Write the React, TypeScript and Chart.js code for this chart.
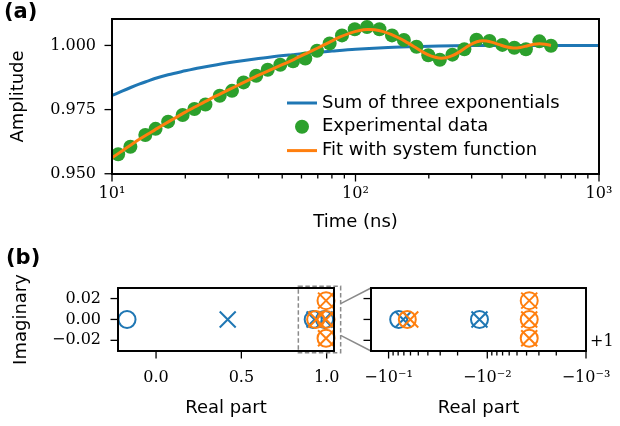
import { useEffect, useRef } from "react";
import { Chart, registerables } from "chart.js";

Chart.register(...registerables);

// ---------------- Panel (a) data ----------------
const expTime = [10.6, 11.9, 13.7, 15.1, 17.0, 19.5, 21.8, 24.2, 27.7, 31.1, 34.7, 39.1, 43.6, 49.1, 55.4, 62.2, 69.5, 78.3, 88.0, 99.3, 111.5, 125.4, 141.2, 158, 178, 199, 222, 250, 280, 314, 355, 401, 449, 501, 569, 635];
const expAmp = [0.9576, 0.9605, 0.9651, 0.9675, 0.9703, 0.9729, 0.9752, 0.977, 0.9804, 0.9823, 0.9856, 0.9882, 0.9905, 0.9925, 0.9938, 0.9949, 0.9979, 1.0008, 1.0039, 1.0063, 1.0072, 1.0063, 1.0039, 1.0021, 0.9995, 0.9962, 0.9944, 0.9964, 0.9985, 1.0022, 1.0017, 1.0002, 0.9991, 0.9985, 1.0016, 0.9999];

const fitTime = [10, 11, 12, 13, 14, 15, 16, 18, 20, 22, 25, 28, 32, 36, 40, 45, 50, 56, 63, 70, 78, 86, 95, 104, 112, 120, 130, 140, 150, 160, 175, 190, 205, 220, 235, 250, 265, 285, 305, 325, 345, 365, 390, 415, 445, 475, 505, 540, 570, 600, 635];
const fitAmp = [0.9562, 0.9589, 0.9613, 0.9635, 0.9654, 0.9671, 0.9687, 0.9715, 0.974, 0.9761, 0.9789, 0.9812, 0.9839, 0.9863, 0.9884, 0.9906, 0.9925, 0.9946, 0.9969, 0.999, 1.0012, 1.0032, 1.0048, 1.0058, 1.0062, 1.0061, 1.0054, 1.0043, 1.003, 1.0016, 0.9994, 0.9973, 0.9958, 0.9951, 0.9952, 0.996, 0.9973, 0.9993, 1.0009, 1.0017, 1.0017, 1.0012, 1.0003, 0.9995, 0.999, 0.9992, 0.9998, 1.0005, 1.0007, 1.0005, 1.0];

const sumTime = [10, 11, 12, 13, 14, 15, 17, 20, 23, 27, 32, 38, 45, 55, 65, 80, 100, 130, 170, 220, 300, 400, 1000];
const sumAmp = [0.9805, 0.9822, 0.9837, 0.985, 0.9861, 0.9871, 0.9886, 0.9901, 0.9913, 0.9925, 0.9936, 0.9946, 0.9955, 0.9964, 0.9971, 0.9978, 0.9985, 0.9991, 0.9995, 0.9998, 0.99995, 1.0, 1.0];

const timeMajorTicks = [10, 100, 1000];
const timeMajorLabels = ["10¹", "10²", "10³"];
const timeMinorTicks = [20, 30, 40, 50, 60, 70, 80, 90, 200, 300, 400, 500, 600, 700, 800, 900];
const ampTicks = [0.95, 0.975, 1.0];
const ampTickLabels = ["0.950", "0.975", "1.000"];

// ---------------- Panel (b) data ----------------
const sumZeroRe = [-0.17, 0.921, 0.988];
const sumZeroIm = [0, 0, 0];
const sumPoleRe = [0.42, 0.929, 0.988];
const sumPoleIm = [0, 0, 0];
const fitZeroRe = [0.9354, 0.99624, 0.99624, 0.99624];
const fitZeroIm = [0, 0.018, 0, -0.018];
const fitPoleRe = [0.9397, 0.99624, 0.99624, 0.99624];
const fitPoleIm = [0, 0.018, 0, -0.018];

const reTicks = [0, 0.5, 1.0];
const reTickLabels = ["0.0", "0.5", "1.0"];
const imTicks = [-0.02, 0, 0.02];
const imTickLabels = ["−0.02", "0.00", "0.02"];
// inset axis: distance below 1 (1 − Re), drawn as −10^k with "+1" offset
const offMajorTicks = [0.1, 0.01, 0.001];
const offMajorLabels = ["−10⁻¹", "−10⁻²", "−10⁻³"];
const offMinorTicks = [0.09, 0.08, 0.07, 0.06, 0.05, 0.04, 0.03, 0.02, 0.009, 0.008, 0.007, 0.006, 0.005, 0.004, 0.003, 0.002];

// ---------------- styles ----------------
const BLUE = "#1f77b4";
const ORANGE = "#ff7f0e";
const GREEN = "#2ca02c";
const GREY = "#8a8a8a";
const TICK_FONT = { family: "'DejaVu Serif', serif", size: 16 };
const LABEL_FONT = { family: "'DejaVu Sans', sans-serif", size: 18 };
const PANEL_FONT = "bold 21px 'DejaVu Sans', sans-serif";

const near = (a: number, b: number) => Math.abs(a - b) <= 1e-9 * Math.max(Math.abs(a), Math.abs(b), 1e-9);
const labeler = (vals: number[], labels: string[]) => (v: any) => {
  const n = Number(v);
  const i = vals.findIndex((m) => near(m, n));
  return i >= 0 ? labels[i] : "";
};
const pts = (xs: number[], ys: number[]) => xs.map((x, i) => ({ x, y: ys[i] }));
const sorted = (a: number[]) => [...a].sort((p, q) => p - q);

function drawAxisTicks(chart: any, id: string, majors: number[]) {
  const ctx = chart.ctx;
  const a = chart.chartArea;
  const s = chart.scales[id];
  ctx.save();
  ctx.strokeStyle = "#000";
  ctx.lineWidth = 1.3;
  for (const t of s.ticks) {
    const len = majors.some((m) => near(m, t.value)) ? 7.5 : 4.5;
    const p = s.getPixelForValue(t.value);
    ctx.beginPath();
    if (s.isHorizontal()) {
      ctx.moveTo(p, a.bottom);
      ctx.lineTo(p, a.bottom + len);
    } else {
      ctx.moveTo(a.left, p);
      ctx.lineTo(a.left - len, p);
    }
    ctx.stroke();
  }
  ctx.lineWidth = 1.8;
  ctx.strokeRect(a.left, a.top, a.right - a.left, a.bottom - a.top);
  ctx.restore();
}

function scaleBase(
  allTicks: number[],
  labelVals: number[],
  labels: string[],
  pad: number,
  size: number,
  showLabels = true
) {
  return {
    bounds: "data",
    afterBuildTicks: (s: any) => {
      s.ticks = allTicks.map((value) => ({ value }));
    },
    afterFit: (s: any) => {
      if (s.isHorizontal()) s.height = size;
      else s.width = size;
      s.paddingTop = 0;
      s.paddingBottom = 0;
      s.paddingLeft = 0;
      s.paddingRight = 0;
    },
    grid: { display: false, drawTicks: false },
    border: { display: false },
    ticks: {
      display: showLabels,
      autoSkip: false,
      maxRotation: 0,
      minRotation: 0,
      padding: pad,
      color: "#000",
      font: TICK_FONT,
      callback: labeler(labelVals, labels),
    },
  };
}

const markerDs = (label: string, re: number[], im: number[], color: string, style: string, order: number, inset: boolean) => ({
  label,
  data: re.map((r, i) => ({ x: inset ? 1 - r : r, y: im[i] })),
  pointStyle: style,
  pointRadius: style === "circle" ? 8.5 : 11.3,
  pointBorderWidth: 2,
  borderColor: color,
  backgroundColor: "rgba(0,0,0,0)",
  pointBackgroundColor: "rgba(0,0,0,0)",
  pointBorderColor: color,
  showLine: false,
  clip: false,
  order,
});

const C_LEFT = 335;

export default function App() {
  const refA = useRef<HTMLCanvasElement>(null);
  const refB = useRef<HTMLCanvasElement>(null);
  const refC = useRef<HTMLCanvasElement>(null);

  useEffect(() => {
    // ---------- inset (right of panel b) ----------
    const chartC = new Chart(refC.current as HTMLCanvasElement, {
      type: "scatter",
      data: {
        datasets: [
          markerDs("fit zeros", fitZeroRe, fitZeroIm, ORANGE, "circle", 0, true),
          markerDs("fit poles", fitPoleRe, fitPoleIm, ORANGE, "crossRot", 0, true),
          markerDs("sum zeros", sumZeroRe, sumZeroIm, BLUE, "circle", 1, true),
          markerDs("sum poles", sumPoleRe, sumPoleIm, BLUE, "crossRot", 1, true),
        ] as any,
      },
      options: {
        animation: false,
        responsive: false,
        maintainAspectRatio: false,
        layout: { padding: { left: 0, right: 34, top: 48, bottom: 0 } },
        plugins: { legend: { display: false }, tooltip: { enabled: false } },
        scales: {
          x: {
            type: "logarithmic",
            reverse: true,
            min: 0.001,
            max: 0.1507,
            ...scaleBase(sorted([...offMajorTicks, ...offMinorTicks]), offMajorTicks, offMajorLabels, 17, 75),
            title: { display: true, text: "Real part", color: "#000", font: LABEL_FONT, padding: { top: 0, bottom: 7 } },
          },
          y: {
            type: "linear",
            min: -0.0302,
            max: 0.0301,
            ...scaleBase(imTicks, imTicks, imTickLabels, 17, 36, false),
          },
        } as any,
      },
      plugins: [
        {
          id: "decoC",
          afterDatasetsDraw(chart: any) {
            drawAxisTicks(chart, "x", offMajorTicks);
            drawAxisTicks(chart, "y", imTicks);
            const ctx = chart.ctx;
            const a = chart.chartArea;
            ctx.save();
            ctx.fillStyle = "#000";
            ctx.font = "16px 'DejaVu Serif', serif";
            ctx.textAlign = "left";
            ctx.textBaseline = "middle";
            ctx.fillText("+1", a.right + 4, a.bottom - 9);
            ctx.restore();
          },
        },
      ],
    });

    // ---------- panel b (left) ----------
    const chartB = new Chart(refB.current as HTMLCanvasElement, {
      type: "scatter",
      data: {
        datasets: [
          markerDs("fit zeros", fitZeroRe, fitZeroIm, ORANGE, "circle", 0, false),
          markerDs("fit poles", fitPoleRe, fitPoleIm, ORANGE, "crossRot", 0, false),
          markerDs("sum zeros", sumZeroRe, sumZeroIm, BLUE, "circle", 1, false),
          markerDs("sum poles", sumPoleRe, sumPoleIm, BLUE, "crossRot", 1, false),
        ] as any,
      },
      options: {
        animation: false,
        responsive: false,
        maintainAspectRatio: false,
        layout: { padding: { left: 0, right: 46, top: 48, bottom: 0 } },
        plugins: { legend: { display: false }, tooltip: { enabled: false } },
        scales: {
          x: {
            type: "linear",
            min: -0.223,
            max: 1.043,
            ...scaleBase(reTicks, reTicks, reTickLabels, 17, 75),
            title: { display: true, text: "Real part", color: "#000", font: LABEL_FONT, padding: { top: 0, bottom: 7 } },
          },
          y: {
            type: "linear",
            min: -0.0302,
            max: 0.0301,
            ...scaleBase(imTicks, imTicks, imTickLabels, 17, 118),
            title: { display: true, text: "Imaginary", color: "#000", font: LABEL_FONT, padding: { top: 11, bottom: 0 } },
          },
        } as any,
      },
      plugins: [
        {
          id: "decoB",
          afterDatasetsDraw(chart: any) {
            drawAxisTicks(chart, "x", reTicks);
            drawAxisTicks(chart, "y", imTicks);
            const ctx = chart.ctx;
            const xs = chart.scales.x;
            const ys = chart.scales.y;
            const x0 = xs.getPixelForValue(0.834);
            const x1 = xs.getPixelForValue(1.082);
            const y0 = ys.getPixelForValue(0.0317);
            const y1 = ys.getPixelForValue(-0.0318);
            ctx.save();
            ctx.strokeStyle = GREY;
            ctx.lineWidth = 1.5;
            ctx.setLineDash([4.5, 2.5]);
            ctx.strokeRect(x0, y0, x1 - x0, y1 - y0);
            ctx.setLineDash([]);
            const ca = chartC.chartArea;
            const ix = ca.left + C_LEFT;
            ctx.beginPath();
            ctx.moveTo(x1, ys.getPixelForValue(0.0152));
            ctx.lineTo(ix, ca.top);
            ctx.moveTo(x1, ys.getPixelForValue(-0.0152));
            ctx.lineTo(ix, ca.bottom);
            ctx.stroke();
            ctx.fillStyle = "#000";
            ctx.font = PANEL_FONT;
            ctx.textAlign = "left";
            ctx.textBaseline = "top";
            ctx.fillText("(b)", 6, 8);
            ctx.restore();
          },
        },
      ],
    });

    // ---------- panel a ----------
    const chartA = new Chart(refA.current as HTMLCanvasElement, {
      type: "scatter",
      data: {
        datasets: [
          {
            label: "Fit with system function",
            data: pts(fitTime, fitAmp),
            showLine: true,
            pointRadius: 0,
            borderColor: ORANGE,
            backgroundColor: ORANGE,
            borderWidth: 3,
            tension: 0.3,
            order: 0,
          },
          {
            label: "Experimental data",
            data: pts(expTime, expAmp),
            showLine: false,
            pointRadius: 7,
            pointBorderWidth: 0,
            backgroundColor: GREEN,
            borderColor: GREEN,
            order: 1,
          },
          {
            label: "Sum of three exponentials",
            data: pts(sumTime, sumAmp),
            showLine: true,
            pointRadius: 0,
            borderColor: BLUE,
            backgroundColor: BLUE,
            borderWidth: 3,
            cubicInterpolationMode: "monotone",
            order: 2,
          },
        ] as any,
      },
      options: {
        animation: false,
        responsive: false,
        maintainAspectRatio: false,
        layout: { padding: { left: 0, right: 21, top: 19, bottom: 0 } },
        plugins: { legend: { display: false }, tooltip: { enabled: false } },
        scales: {
          x: {
            type: "logarithmic",
            min: 10,
            max: 1000,
            ...scaleBase(sorted([...timeMajorTicks, ...timeMinorTicks]), timeMajorTicks, timeMajorLabels, 10, 66),
            title: { display: true, text: "Time (ns)", color: "#000", font: LABEL_FONT, padding: { top: 0, bottom: 7 } },
          },
          y: {
            type: "linear",
            min: 0.9499,
            max: 1.0103,
            ...scaleBase(ampTicks, ampTicks, ampTickLabels, 16, 112),
            title: { display: true, text: "Amplitude", color: "#000", font: LABEL_FONT, padding: { top: 8, bottom: 0 } },
          },
        } as any,
      },
      plugins: [
        {
          id: "decoA",
          afterDatasetsDraw(chart: any) {
            drawAxisTicks(chart, "x", timeMajorTicks);
            drawAxisTicks(chart, "y", ampTicks);
            const ctx = chart.ctx;
            const a = chart.chartArea;
            const ds = chart.data.datasets;
            const entries = [ds[2], ds[1], ds[0]];
            ctx.save();
            ctx.font = "18px 'DejaVu Sans', sans-serif";
            ctx.textBaseline = "middle";
            ctx.textAlign = "left";
            entries.forEach((d: any, i: number) => {
              const y = a.top + 84 + i * 23.8;
              const hx0 = a.right - 312;
              const hx1 = a.right - 282;
              if (d.showLine) {
                ctx.strokeStyle = d.borderColor;
                ctx.lineWidth = 3;
                ctx.beginPath();
                ctx.moveTo(hx0, y);
                ctx.lineTo(hx1, y);
                ctx.stroke();
              } else {
                ctx.fillStyle = d.backgroundColor;
                ctx.beginPath();
                ctx.arc((hx0 + hx1) / 2, y, 7, 0, Math.PI * 2);
                ctx.fill();
              }
              ctx.fillStyle = "#000";
              ctx.fillText(d.label, a.right - 277, y);
            });
            ctx.font = PANEL_FONT;
            ctx.textBaseline = "top";
            ctx.fillText("(a)", 4, 2);
            ctx.restore();
          },
        },
      ],
    });

    return () => {
      chartA.destroy();
      chartB.destroy();
      chartC.destroy();
    };
  }, []);

  return (
    <div style={{ position: "absolute", left: 0, top: 0, width: 620, height: 426, background: "#fff", overflow: "hidden" }}>
      <canvas ref={refA} width={620} height={240} style={{ position: "absolute", left: 0, top: 0, width: 620, height: 240 }} />
      <canvas ref={refB} width={380} height={186} style={{ position: "absolute", left: 0, top: 240, width: 380, height: 186 }} />
      <canvas ref={refC} width={285} height={186} style={{ position: "absolute", left: C_LEFT, top: 240, width: 285, height: 186 }} />
    </div>
  );
}
